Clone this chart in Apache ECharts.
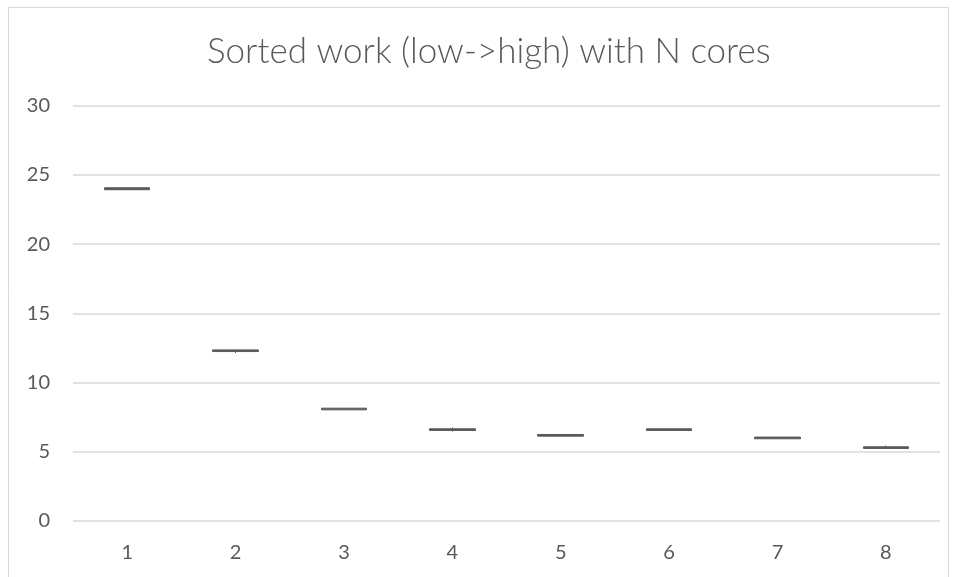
<!DOCTYPE html>
<html>
<head>
<meta charset="utf-8">
<script src="https://cdn.jsdelivr.net/npm/echarts@6/dist/echarts.min.js"></script>
<style>
  html, body { margin: 0; padding: 0; background: #fff; }
  #chart { width: 958px; height: 577px; }
</style>
</head>
<body>
<div id="chart"></div>
<script>
// Number of cores on the x axis
const categories = ['1', '2', '3', '4', '5', '6', '7', '8'];
// Box-and-whisker values per core count (box = q1..q3, whiskers = low..high)
const q1Values   = [23.93, 12.24, 8.03, 6.54, 6.13, 6.54, 5.94, 5.24];
const q3Values   = [24.07, 12.36, 8.15, 6.66, 6.25, 6.66, 6.06, 5.36];
const lowValues  = [23.93, 12.14, 8.03, 6.46, 6.13, 6.54, 5.94, 5.24];
const highValues = [24.07, 12.36, 8.15, 6.76, 6.25, 6.66, 6.06, 5.45];
// Value axis ticks
const yTicks = { min: 0, max: 30, interval: 5 };

const FONT = 'Lato, "Open Sans", sans-serif';
const TEXT = '#595959';
const BOX = '#595959';

const candleData = categories.map((c, i) => [q1Values[i], q3Values[i], lowValues[i], highValues[i]]);

const chart = echarts.init(document.getElementById('chart'), null, { renderer: 'canvas' });
chart.setOption({
  animation: false,
  backgroundColor: '#ffffff',
  title: {
    text: 'Sorted work (low->high) with N cores',
    left: 202,
    top: 29,
    textStyle: { fontFamily: FONT, fontSize: 35, fontWeight: 300, color: TEXT }
  },
  graphic: [{
    type: 'rect',
    shape: { x: 8.5, y: 7.5, width: 940, height: 620 },
    style: { fill: 'none', stroke: '#d9d9d9', lineWidth: 1 },
    silent: true
  }],
  grid: { left: 73, right: 18, top: 105.7, bottom: 56, containLabel: false },
  xAxis: {
    type: 'category',
    data: categories,
    axisLine: { show: false },
    axisTick: { show: false },
    axisLabel: { color: TEXT, fontFamily: FONT, fontSize: 20, margin: 22 }
  },
  yAxis: {
    type: 'value',
    min: yTicks.min,
    max: yTicks.max,
    interval: yTicks.interval,
    axisLine: { show: false },
    axisTick: { show: false },
    axisLabel: { color: TEXT, fontFamily: FONT, fontSize: 20, margin: 23 },
    splitLine: { lineStyle: { color: '#d9d9d9', width: 1.5 } }
  },
  series: [{
    type: 'candlestick',
    data: candleData,
    barWidth: 46,
    itemStyle: {
      color: BOX, color0: BOX,
      borderColor: BOX, borderColor0: BOX,
      borderWidth: 1
    }
  }]
});
</script>
</body>
</html>
